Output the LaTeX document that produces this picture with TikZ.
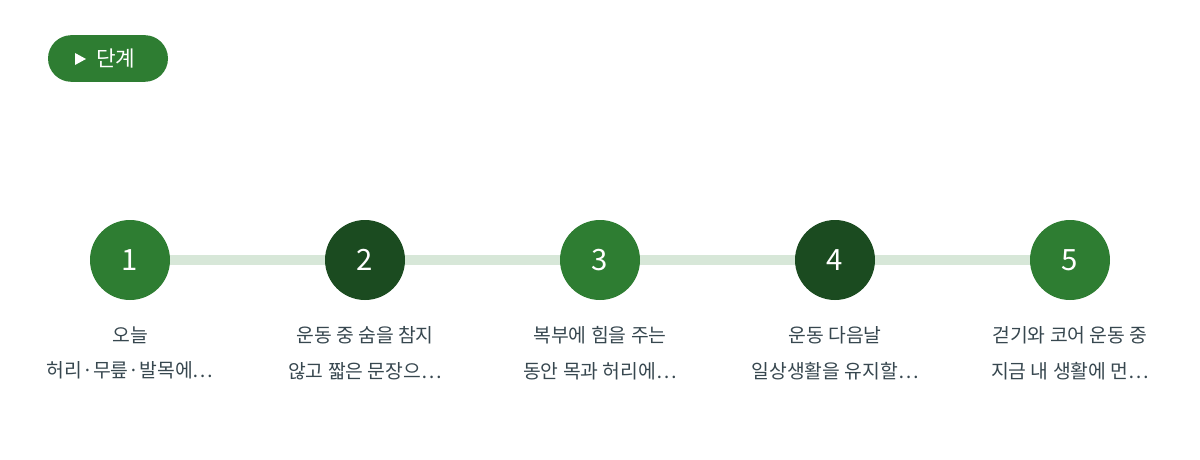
\documentclass[tikz,border=0pt]{standalone}
\usepackage{fontspec}
\setmainfont{Noto Sans CJK KR}
\definecolor{gA}{HTML}{2E7D32}
\definecolor{gB}{HTML}{1B4B20}
\definecolor{lineC}{HTML}{D7E7D8}
\definecolor{txt}{HTML}{37474F}
\begin{document}
\begin{tikzpicture}[x=0.75pt,y=-0.75pt,
  stepnode/.style={circle,minimum size=60pt,inner sep=0pt,text=white,font=\fontsize{22}{26}\selectfont},
  lab/.style={text=txt,align=center,font=\fontsize{14.5}{26.5}\selectfont,anchor=north}]
\useasboundingbox (0,0) rectangle (1200,460);
\node[fill=gA,rounded corners=17.5pt,minimum width=90pt,minimum height=35pt,inner sep=0pt] (tag) at (108,58.5) {};
\node[text=white,font=\fontsize{16}{18}\selectfont,anchor=west,inner sep=0pt] (tagt) at (96,59) {단계};
\fill[white] (75,53) -- (86,59) -- (75,65) -- cycle;
\draw[lineC,line width=7.5pt] (130,260) -- (1070,260);
\foreach \i/\x/\c in {1/130/gA,2/365/gB,3/600/gA,4/835/gB,5/1070/gA}
  \node[stepnode,fill=\c] (s\i) at (\x,260) {\i};
\node[lab] (t1) at (130,322) {오늘\\허리·무릎·발목에…};
\node[lab] (t2) at (365,322) {운동 중 숨을 참지\\않고 짧은 문장으…};
\node[lab] (t3) at (600,322) {복부에 힘을 주는\\동안 목과 허리에…};
\node[lab] (t4) at (835,322) {운동 다음날\\일상생활을 유지할…};
\node[lab] (t5) at (1070,322) {걷기와 코어 운동 중\\지금 내 생활에 먼…};
\end{tikzpicture}
\end{document}
